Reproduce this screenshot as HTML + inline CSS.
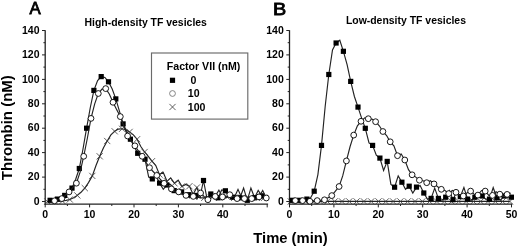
<!DOCTYPE html>
<html><head><meta charset="utf-8"><style>
html,body{margin:0;padding:0;background:#fff;width:520px;height:248px;overflow:hidden}
svg{display:block;filter:grayscale(1) blur(0.35px)}
text{font-family:"Liberation Sans",sans-serif;fill:#000}
.tk{font-size:10.5px;font-weight:bold}
.lg{font-size:10.6px;font-weight:bold}
.ti{font-size:10.45px;font-weight:bold}
.pl{font-size:16.8px;stroke:#000;stroke-width:0.8px}
.ax{font-size:15px;font-weight:bold}
</style></head><body>
<svg width="520" height="248" viewBox="0 0 520 248">
<line x1="45.2" y1="30.2" x2="45.2" y2="204.79999999999998" stroke="#222" stroke-width="1.3"/>
<line x1="44.6" y1="204.2" x2="268.1" y2="204.2" stroke="#222" stroke-width="1.3"/>
<line x1="42.0" y1="201.5" x2="45.2" y2="201.5" stroke="#222" stroke-width="1"/>
<text x="39.5" y="204.6" text-anchor="end" class="tk">0</text>
<line x1="43.4" y1="189.3" x2="45.2" y2="189.3" stroke="#222" stroke-width="1"/>
<line x1="42.0" y1="177.1" x2="45.2" y2="177.1" stroke="#222" stroke-width="1"/>
<text x="39.5" y="180.2" text-anchor="end" class="tk">20</text>
<line x1="43.4" y1="164.9" x2="45.2" y2="164.9" stroke="#222" stroke-width="1"/>
<line x1="42.0" y1="152.6" x2="45.2" y2="152.6" stroke="#222" stroke-width="1"/>
<text x="39.5" y="155.7" text-anchor="end" class="tk">40</text>
<line x1="43.4" y1="140.4" x2="45.2" y2="140.4" stroke="#222" stroke-width="1"/>
<line x1="42.0" y1="128.2" x2="45.2" y2="128.2" stroke="#222" stroke-width="1"/>
<text x="39.5" y="131.3" text-anchor="end" class="tk">60</text>
<line x1="43.4" y1="116.0" x2="45.2" y2="116.0" stroke="#222" stroke-width="1"/>
<line x1="42.0" y1="103.8" x2="45.2" y2="103.8" stroke="#222" stroke-width="1"/>
<text x="39.5" y="106.9" text-anchor="end" class="tk">80</text>
<line x1="43.4" y1="91.6" x2="45.2" y2="91.6" stroke="#222" stroke-width="1"/>
<line x1="42.0" y1="79.4" x2="45.2" y2="79.4" stroke="#222" stroke-width="1"/>
<text x="39.5" y="82.5" text-anchor="end" class="tk">100</text>
<line x1="43.4" y1="67.1" x2="45.2" y2="67.1" stroke="#222" stroke-width="1"/>
<line x1="42.0" y1="54.9" x2="45.2" y2="54.9" stroke="#222" stroke-width="1"/>
<text x="39.5" y="58.0" text-anchor="end" class="tk">120</text>
<line x1="43.4" y1="42.7" x2="45.2" y2="42.7" stroke="#222" stroke-width="1"/>
<line x1="42.0" y1="30.5" x2="45.2" y2="30.5" stroke="#222" stroke-width="1"/>
<text x="39.5" y="33.6" text-anchor="end" class="tk">140</text>
<line x1="45.2" y1="204.2" x2="45.2" y2="207.4" stroke="#222" stroke-width="1"/>
<text x="45.2" y="218.4" text-anchor="middle" class="tk">0</text>
<line x1="67.4" y1="204.2" x2="67.4" y2="206.0" stroke="#222" stroke-width="1"/>
<line x1="89.6" y1="204.2" x2="89.6" y2="207.4" stroke="#222" stroke-width="1"/>
<text x="89.6" y="218.4" text-anchor="middle" class="tk">10</text>
<line x1="111.8" y1="204.2" x2="111.8" y2="206.0" stroke="#222" stroke-width="1"/>
<line x1="134.0" y1="204.2" x2="134.0" y2="207.4" stroke="#222" stroke-width="1"/>
<text x="134.0" y="218.4" text-anchor="middle" class="tk">20</text>
<line x1="156.2" y1="204.2" x2="156.2" y2="206.0" stroke="#222" stroke-width="1"/>
<line x1="178.4" y1="204.2" x2="178.4" y2="207.4" stroke="#222" stroke-width="1"/>
<text x="178.4" y="218.4" text-anchor="middle" class="tk">30</text>
<line x1="200.6" y1="204.2" x2="200.6" y2="206.0" stroke="#222" stroke-width="1"/>
<line x1="222.8" y1="204.2" x2="222.8" y2="207.4" stroke="#222" stroke-width="1"/>
<text x="222.8" y="218.4" text-anchor="middle" class="tk">40</text>
<line x1="245.0" y1="204.2" x2="245.0" y2="206.0" stroke="#222" stroke-width="1"/>
<line x1="267.2" y1="204.2" x2="267.2" y2="207.4" stroke="#222" stroke-width="1"/>
<line x1="289.5" y1="30.2" x2="289.5" y2="204.79999999999998" stroke="#222" stroke-width="1.3"/>
<line x1="288.9" y1="204.2" x2="512.4" y2="204.2" stroke="#222" stroke-width="1.3"/>
<line x1="286.3" y1="201.5" x2="289.5" y2="201.5" stroke="#222" stroke-width="1"/>
<text x="283.8" y="204.6" text-anchor="end" class="tk">0</text>
<line x1="287.7" y1="189.3" x2="289.5" y2="189.3" stroke="#222" stroke-width="1"/>
<line x1="286.3" y1="177.1" x2="289.5" y2="177.1" stroke="#222" stroke-width="1"/>
<text x="283.8" y="180.2" text-anchor="end" class="tk">20</text>
<line x1="287.7" y1="164.9" x2="289.5" y2="164.9" stroke="#222" stroke-width="1"/>
<line x1="286.3" y1="152.6" x2="289.5" y2="152.6" stroke="#222" stroke-width="1"/>
<text x="283.8" y="155.7" text-anchor="end" class="tk">40</text>
<line x1="287.7" y1="140.4" x2="289.5" y2="140.4" stroke="#222" stroke-width="1"/>
<line x1="286.3" y1="128.2" x2="289.5" y2="128.2" stroke="#222" stroke-width="1"/>
<text x="283.8" y="131.3" text-anchor="end" class="tk">60</text>
<line x1="287.7" y1="116.0" x2="289.5" y2="116.0" stroke="#222" stroke-width="1"/>
<line x1="286.3" y1="103.8" x2="289.5" y2="103.8" stroke="#222" stroke-width="1"/>
<text x="283.8" y="106.9" text-anchor="end" class="tk">80</text>
<line x1="287.7" y1="91.6" x2="289.5" y2="91.6" stroke="#222" stroke-width="1"/>
<line x1="286.3" y1="79.4" x2="289.5" y2="79.4" stroke="#222" stroke-width="1"/>
<text x="283.8" y="82.5" text-anchor="end" class="tk">100</text>
<line x1="287.7" y1="67.1" x2="289.5" y2="67.1" stroke="#222" stroke-width="1"/>
<line x1="286.3" y1="54.9" x2="289.5" y2="54.9" stroke="#222" stroke-width="1"/>
<text x="283.8" y="58.0" text-anchor="end" class="tk">120</text>
<line x1="287.7" y1="42.7" x2="289.5" y2="42.7" stroke="#222" stroke-width="1"/>
<line x1="286.3" y1="30.5" x2="289.5" y2="30.5" stroke="#222" stroke-width="1"/>
<text x="283.8" y="33.6" text-anchor="end" class="tk">140</text>
<line x1="289.5" y1="204.2" x2="289.5" y2="207.4" stroke="#222" stroke-width="1"/>
<text x="289.5" y="218.4" text-anchor="middle" class="tk">0</text>
<line x1="311.7" y1="204.2" x2="311.7" y2="206.0" stroke="#222" stroke-width="1"/>
<line x1="333.9" y1="204.2" x2="333.9" y2="207.4" stroke="#222" stroke-width="1"/>
<text x="333.9" y="218.4" text-anchor="middle" class="tk">10</text>
<line x1="356.1" y1="204.2" x2="356.1" y2="206.0" stroke="#222" stroke-width="1"/>
<line x1="378.3" y1="204.2" x2="378.3" y2="207.4" stroke="#222" stroke-width="1"/>
<text x="378.3" y="218.4" text-anchor="middle" class="tk">20</text>
<line x1="400.5" y1="204.2" x2="400.5" y2="206.0" stroke="#222" stroke-width="1"/>
<line x1="422.7" y1="204.2" x2="422.7" y2="207.4" stroke="#222" stroke-width="1"/>
<text x="422.7" y="218.4" text-anchor="middle" class="tk">30</text>
<line x1="444.9" y1="204.2" x2="444.9" y2="206.0" stroke="#222" stroke-width="1"/>
<line x1="467.1" y1="204.2" x2="467.1" y2="207.4" stroke="#222" stroke-width="1"/>
<text x="467.1" y="218.4" text-anchor="middle" class="tk">40</text>
<line x1="489.3" y1="204.2" x2="489.3" y2="206.0" stroke="#222" stroke-width="1"/>
<line x1="511.5" y1="204.2" x2="511.5" y2="207.4" stroke="#222" stroke-width="1"/>
<text x="511.5" y="218.4" text-anchor="middle" class="tk">50</text>
<polyline points="47.4,201.5 51.2,201.5 54.9,201.5 58.6,201.3 62.4,201.0 66.1,200.4 69.8,199.5 73.6,197.8 77.3,195.4 81.0,192.3 84.8,188.1 88.5,182.6 92.3,175.9 96.0,165.5 99.7,156.3 103.5,147.8 107.2,141.0 110.9,134.9 114.7,131.3 118.4,129.1 122.1,128.8 125.9,129.8 129.6,131.9 133.4,134.9 137.1,139.2 140.8,146.5 144.6,152.0 148.3,156.3 152.0,161.2 155.8,165.6 159.5,174.6 163.2,172.3 167.0,181.3 170.7,177.8 174.5,183.3 178.2,180.2 181.9,186.4 185.7,184.4 189.4,186.2 193.1,194.2 196.9,187.5 200.6,197.8 204.3,197.8 208.1,196.6 211.8,196.6 215.6,197.8 219.3,197.8 223.0,196.6 226.8,196.6 230.5,197.8 234.2,197.8 238.0,189.3 241.7,197.8 245.4,197.8 249.2,198.4 252.9,196.6 256.7,197.8 260.4,197.8 264.1,197.8" fill="none" stroke="#222" stroke-width="1.15"/>
<path d="M44.3,198.4L50.5,204.6M44.3,204.6L50.5,198.4" stroke="#383838" stroke-width="0.8" fill="none"/>
<path d="M51.8,198.4L58.0,204.6M51.8,204.6L58.0,198.4" stroke="#383838" stroke-width="0.8" fill="none"/>
<path d="M59.3,197.9L65.5,204.1M59.3,204.1L65.5,197.9" stroke="#383838" stroke-width="0.8" fill="none"/>
<path d="M66.7,196.4L72.9,202.6M66.7,202.6L72.9,196.4" stroke="#383838" stroke-width="0.8" fill="none"/>
<path d="M74.2,192.3L80.4,198.5M74.2,198.5L80.4,192.3" stroke="#383838" stroke-width="0.8" fill="none"/>
<path d="M81.7,185.0L87.9,191.2M81.7,191.2L87.9,185.0" stroke="#383838" stroke-width="0.8" fill="none"/>
<path d="M89.2,172.8L95.4,179.0M89.2,179.0L95.4,172.8" stroke="#383838" stroke-width="0.8" fill="none"/>
<path d="M96.6,153.2L102.8,159.4M96.6,159.4L102.8,153.2" stroke="#383838" stroke-width="0.8" fill="none"/>
<path d="M104.1,137.9L110.3,144.1M104.1,144.1L110.3,137.9" stroke="#383838" stroke-width="0.8" fill="none"/>
<path d="M111.6,128.2L117.8,134.4M111.6,134.4L117.8,128.2" stroke="#383838" stroke-width="0.8" fill="none"/>
<path d="M119.0,125.7L125.2,131.9M119.0,131.9L125.2,125.7" stroke="#383838" stroke-width="0.8" fill="none"/>
<path d="M126.5,128.8L132.7,135.0M126.5,135.0L132.7,128.8" stroke="#383838" stroke-width="0.8" fill="none"/>
<path d="M134.0,136.1L140.2,142.3M134.0,142.3L140.2,136.1" stroke="#383838" stroke-width="0.8" fill="none"/>
<path d="M141.5,148.9L147.7,155.1M141.5,155.1L147.7,148.9" stroke="#383838" stroke-width="0.8" fill="none"/>
<path d="M148.9,158.1L155.1,164.3M148.9,164.3L155.1,158.1" stroke="#383838" stroke-width="0.8" fill="none"/>
<path d="M156.4,171.5L162.6,177.7M156.4,177.7L162.6,171.5" stroke="#383838" stroke-width="0.8" fill="none"/>
<path d="M163.9,178.2L170.1,184.4M163.9,184.4L170.1,178.2" stroke="#383838" stroke-width="0.8" fill="none"/>
<path d="M171.4,180.2L177.6,186.4M171.4,186.4L177.6,180.2" stroke="#383838" stroke-width="0.8" fill="none"/>
<path d="M178.8,183.3L185.0,189.5M178.8,189.5L185.0,183.3" stroke="#383838" stroke-width="0.8" fill="none"/>
<path d="M186.3,183.1L192.5,189.3M186.3,189.3L192.5,183.1" stroke="#383838" stroke-width="0.8" fill="none"/>
<path d="M193.8,184.4L200.0,190.6M193.8,190.6L200.0,184.4" stroke="#383838" stroke-width="0.8" fill="none"/>
<path d="M201.2,194.7L207.4,200.9M201.2,200.9L207.4,194.7" stroke="#383838" stroke-width="0.8" fill="none"/>
<path d="M208.7,193.5L214.9,199.7M208.7,199.7L214.9,193.5" stroke="#383838" stroke-width="0.8" fill="none"/>
<path d="M216.2,194.7L222.4,200.9M216.2,200.9L222.4,194.7" stroke="#383838" stroke-width="0.8" fill="none"/>
<path d="M223.7,193.5L229.9,199.7M223.7,199.7L229.9,193.5" stroke="#383838" stroke-width="0.8" fill="none"/>
<path d="M231.1,194.7L237.3,200.9M231.1,200.9L237.3,194.7" stroke="#383838" stroke-width="0.8" fill="none"/>
<path d="M238.6,194.7L244.8,200.9M238.6,200.9L244.8,194.7" stroke="#383838" stroke-width="0.8" fill="none"/>
<path d="M246.1,195.3L252.3,201.5M246.1,201.5L252.3,195.3" stroke="#383838" stroke-width="0.8" fill="none"/>
<path d="M253.6,194.7L259.8,200.9M253.6,200.9L259.8,194.7" stroke="#383838" stroke-width="0.8" fill="none"/>
<path d="M261.0,194.7L267.2,200.9M261.0,200.9L267.2,194.7" stroke="#383838" stroke-width="0.8" fill="none"/>
<polyline points="50.1,200.3 53.7,199.7 57.4,199.1 61.0,197.8 64.7,195.4 68.3,191.7 72.0,188.1 75.6,179.5 79.3,168.5 83.0,149.0 86.6,128.2 90.3,107.5 93.9,90.4 97.6,80.6 101.2,76.6 104.9,77.5 108.5,81.8 112.2,89.1 115.8,98.9 119.5,111.4 123.1,123.9 126.8,131.6 130.4,139.2 134.1,146.2 137.7,153.3 141.4,156.2 145.0,159.2 148.7,177.1 152.3,178.9 156.0,175.9 159.6,183.1 163.3,189.3 166.9,185.0 170.6,184.4 174.2,190.6 177.9,194.2 181.6,191.9 185.2,196.6 188.9,194.7 192.5,197.8 196.2,195.4 199.8,197.8 203.5,180.5 207.1,199.1 210.8,194.0 214.4,197.8 218.1,197.8 221.7,189.9 225.4,190.8 229.0,196.6 232.7,197.2 236.3,197.8 240.0,197.8 243.6,188.1 247.3,200.3 250.9,188.1 254.6,197.8 258.2,190.5 261.9,195.8 265.5,197.8" fill="none" stroke="#222" stroke-width="1.15"/>
<rect x="47.5" y="197.7" width="5.2" height="5.2" fill="#000"/>
<rect x="54.8" y="196.5" width="5.2" height="5.2" fill="#000"/>
<rect x="62.1" y="192.8" width="5.2" height="5.2" fill="#000"/>
<rect x="69.4" y="185.5" width="5.2" height="5.2" fill="#000"/>
<rect x="76.7" y="165.9" width="5.2" height="5.2" fill="#000"/>
<rect x="84.0" y="125.6" width="5.2" height="5.2" fill="#000"/>
<rect x="91.3" y="87.8" width="5.2" height="5.2" fill="#000"/>
<rect x="98.6" y="74.0" width="5.2" height="5.2" fill="#000"/>
<rect x="105.9" y="79.2" width="5.2" height="5.2" fill="#000"/>
<rect x="113.2" y="96.3" width="5.2" height="5.2" fill="#000"/>
<rect x="120.5" y="121.3" width="5.2" height="5.2" fill="#000"/>
<rect x="127.8" y="136.6" width="5.2" height="5.2" fill="#000"/>
<rect x="135.1" y="150.7" width="5.2" height="5.2" fill="#000"/>
<rect x="142.4" y="156.6" width="5.2" height="5.2" fill="#000"/>
<rect x="149.7" y="176.3" width="5.2" height="5.2" fill="#000"/>
<rect x="157.0" y="180.5" width="5.2" height="5.2" fill="#000"/>
<rect x="164.3" y="182.4" width="5.2" height="5.2" fill="#000"/>
<rect x="171.6" y="188.0" width="5.2" height="5.2" fill="#000"/>
<rect x="179.0" y="189.3" width="5.2" height="5.2" fill="#000"/>
<rect x="186.3" y="192.1" width="5.2" height="5.2" fill="#000"/>
<rect x="193.6" y="192.8" width="5.2" height="5.2" fill="#000"/>
<rect x="200.9" y="177.9" width="5.2" height="5.2" fill="#000"/>
<rect x="208.2" y="191.4" width="5.2" height="5.2" fill="#000"/>
<rect x="215.5" y="195.2" width="5.2" height="5.2" fill="#000"/>
<rect x="222.8" y="188.2" width="5.2" height="5.2" fill="#000"/>
<rect x="230.1" y="194.6" width="5.2" height="5.2" fill="#000"/>
<rect x="237.4" y="195.2" width="5.2" height="5.2" fill="#000"/>
<rect x="244.7" y="197.7" width="5.2" height="5.2" fill="#000"/>
<rect x="252.0" y="195.2" width="5.2" height="5.2" fill="#000"/>
<rect x="259.3" y="193.2" width="5.2" height="5.2" fill="#000"/>
<polyline points="54.5,200.8 58.2,199.7 61.8,198.6 65.5,195.2 69.1,191.9 72.8,187.5 76.4,183.2 80.1,172.2 83.7,156.3 87.4,138.0 91.0,118.4 94.7,103.8 98.3,93.5 102.0,89.1 105.7,88.6 109.3,94.0 113.0,102.3 116.6,109.5 120.3,116.6 123.9,126.3 127.6,136.0 131.2,140.9 134.9,145.8 138.5,151.1 142.2,156.3 145.8,162.0 149.5,167.7 153.1,171.5 156.8,175.4 160.4,179.3 164.1,183.3 167.7,185.6 171.4,188.9 175.0,191.7 178.7,191.9 182.3,194.2 186.0,195.4 189.6,197.8 193.3,196.4 196.9,199.1 200.6,193.0 204.3,196.6 207.9,199.7 211.6,197.8 215.2,196.4 218.9,190.1 222.5,196.9 226.2,197.8 229.8,194.7 233.5,196.6 237.1,198.6 240.8,199.1 244.4,198.6 248.1,197.8 251.7,198.6 255.4,199.1 259.0,196.9 262.7,190.5 266.3,198.0" fill="none" stroke="#222" stroke-width="1.15"/>
<circle cx="54.5" cy="200.8" r="2.9" fill="#fff" stroke="#000" stroke-width="0.9"/>
<circle cx="61.8" cy="198.6" r="2.9" fill="#fff" stroke="#000" stroke-width="0.9"/>
<circle cx="69.1" cy="191.9" r="2.9" fill="#fff" stroke="#000" stroke-width="0.9"/>
<circle cx="76.4" cy="183.2" r="2.9" fill="#fff" stroke="#000" stroke-width="0.9"/>
<circle cx="83.7" cy="156.3" r="2.9" fill="#fff" stroke="#000" stroke-width="0.9"/>
<circle cx="91.0" cy="118.4" r="2.9" fill="#fff" stroke="#000" stroke-width="0.9"/>
<circle cx="98.3" cy="93.5" r="2.9" fill="#fff" stroke="#000" stroke-width="0.9"/>
<circle cx="105.7" cy="88.6" r="2.9" fill="#fff" stroke="#000" stroke-width="0.9"/>
<circle cx="113.0" cy="102.3" r="2.9" fill="#fff" stroke="#000" stroke-width="0.9"/>
<circle cx="120.3" cy="116.6" r="2.9" fill="#fff" stroke="#000" stroke-width="0.9"/>
<circle cx="127.6" cy="136.0" r="2.9" fill="#fff" stroke="#000" stroke-width="0.9"/>
<circle cx="134.9" cy="145.8" r="2.9" fill="#fff" stroke="#000" stroke-width="0.9"/>
<circle cx="142.2" cy="156.3" r="2.9" fill="#fff" stroke="#000" stroke-width="0.9"/>
<circle cx="149.5" cy="167.7" r="2.9" fill="#fff" stroke="#000" stroke-width="0.9"/>
<circle cx="156.8" cy="175.4" r="2.9" fill="#fff" stroke="#000" stroke-width="0.9"/>
<circle cx="164.1" cy="183.3" r="2.9" fill="#fff" stroke="#000" stroke-width="0.9"/>
<circle cx="171.4" cy="188.9" r="2.9" fill="#fff" stroke="#000" stroke-width="0.9"/>
<circle cx="178.7" cy="191.9" r="2.9" fill="#fff" stroke="#000" stroke-width="0.9"/>
<circle cx="186.0" cy="195.4" r="2.9" fill="#fff" stroke="#000" stroke-width="0.9"/>
<circle cx="193.3" cy="196.4" r="2.9" fill="#fff" stroke="#000" stroke-width="0.9"/>
<circle cx="200.6" cy="193.0" r="2.9" fill="#fff" stroke="#000" stroke-width="0.9"/>
<circle cx="207.9" cy="199.7" r="2.9" fill="#fff" stroke="#000" stroke-width="0.9"/>
<circle cx="215.2" cy="196.4" r="2.9" fill="#fff" stroke="#000" stroke-width="0.9"/>
<circle cx="222.5" cy="196.9" r="2.9" fill="#fff" stroke="#000" stroke-width="0.9"/>
<circle cx="229.8" cy="194.7" r="2.9" fill="#fff" stroke="#000" stroke-width="0.9"/>
<circle cx="237.1" cy="198.6" r="2.9" fill="#fff" stroke="#000" stroke-width="0.9"/>
<circle cx="244.4" cy="198.6" r="2.9" fill="#fff" stroke="#000" stroke-width="0.9"/>
<circle cx="251.7" cy="198.6" r="2.9" fill="#fff" stroke="#000" stroke-width="0.9"/>
<circle cx="259.0" cy="196.9" r="2.9" fill="#fff" stroke="#000" stroke-width="0.9"/>
<circle cx="266.3" cy="198.0" r="2.9" fill="#fff" stroke="#000" stroke-width="0.9"/>
<polyline points="290.8,201.4 294.5,201.4 298.1,201.4 301.8,201.4 305.4,201.4 309.1,201.4 312.7,201.4 316.4,201.4 320.0,201.4 323.7,201.4 327.4,201.4 331.0,201.4 334.7,201.4 338.3,201.4 342.0,201.4 345.6,201.4 349.3,201.4 352.9,201.4 356.6,201.4 360.2,201.4 363.9,201.4 367.5,201.4 371.2,201.4 374.8,201.4 378.5,201.4 382.1,201.4 385.8,201.4 389.4,201.4 393.1,201.4 396.7,201.4 400.4,201.4 404.0,201.4 407.7,201.4 411.3,201.4 415.0,201.4 418.6,201.4 422.3,201.4 426.0,201.4 429.6,201.4 433.3,201.4 436.9,201.4 440.6,201.4 444.2,201.4 447.9,201.4 451.5,201.4 455.2,201.4 458.8,201.4 462.5,201.4 466.1,201.4 469.8,201.4 473.4,201.4 477.1,201.4 480.7,201.4 484.4,201.4 488.0,201.4 491.7,201.4 495.3,201.4 499.0,201.4 502.6,201.4 506.3,201.4 509.9,201.4" fill="none" stroke="#222" stroke-width="1.15"/>
<path d="M287.7,198.3L293.9,204.5M287.7,204.5L293.9,198.3" stroke="#383838" stroke-width="0.8" fill="none"/>
<path d="M295.0,198.3L301.2,204.5M295.0,204.5L301.2,198.3" stroke="#383838" stroke-width="0.8" fill="none"/>
<path d="M302.3,198.3L308.5,204.5M302.3,204.5L308.5,198.3" stroke="#383838" stroke-width="0.8" fill="none"/>
<path d="M309.6,198.3L315.8,204.5M309.6,204.5L315.8,198.3" stroke="#383838" stroke-width="0.8" fill="none"/>
<path d="M316.9,198.3L323.1,204.5M316.9,204.5L323.1,198.3" stroke="#383838" stroke-width="0.8" fill="none"/>
<path d="M324.3,198.3L330.5,204.5M324.3,204.5L330.5,198.3" stroke="#383838" stroke-width="0.8" fill="none"/>
<path d="M331.6,198.3L337.8,204.5M331.6,204.5L337.8,198.3" stroke="#383838" stroke-width="0.8" fill="none"/>
<path d="M338.9,198.3L345.1,204.5M338.9,204.5L345.1,198.3" stroke="#383838" stroke-width="0.8" fill="none"/>
<path d="M346.2,198.3L352.4,204.5M346.2,204.5L352.4,198.3" stroke="#383838" stroke-width="0.8" fill="none"/>
<path d="M353.5,198.3L359.7,204.5M353.5,204.5L359.7,198.3" stroke="#383838" stroke-width="0.8" fill="none"/>
<path d="M360.8,198.3L367.0,204.5M360.8,204.5L367.0,198.3" stroke="#383838" stroke-width="0.8" fill="none"/>
<path d="M368.1,198.3L374.3,204.5M368.1,204.5L374.3,198.3" stroke="#383838" stroke-width="0.8" fill="none"/>
<path d="M375.4,198.3L381.6,204.5M375.4,204.5L381.6,198.3" stroke="#383838" stroke-width="0.8" fill="none"/>
<path d="M382.7,198.3L388.9,204.5M382.7,204.5L388.9,198.3" stroke="#383838" stroke-width="0.8" fill="none"/>
<path d="M390.0,198.3L396.2,204.5M390.0,204.5L396.2,198.3" stroke="#383838" stroke-width="0.8" fill="none"/>
<path d="M397.3,198.3L403.5,204.5M397.3,204.5L403.5,198.3" stroke="#383838" stroke-width="0.8" fill="none"/>
<path d="M404.6,198.3L410.8,204.5M404.6,204.5L410.8,198.3" stroke="#383838" stroke-width="0.8" fill="none"/>
<path d="M411.9,198.3L418.1,204.5M411.9,204.5L418.1,198.3" stroke="#383838" stroke-width="0.8" fill="none"/>
<path d="M419.2,198.3L425.4,204.5M419.2,204.5L425.4,198.3" stroke="#383838" stroke-width="0.8" fill="none"/>
<path d="M426.5,198.3L432.7,204.5M426.5,204.5L432.7,198.3" stroke="#383838" stroke-width="0.8" fill="none"/>
<path d="M433.8,198.3L440.0,204.5M433.8,204.5L440.0,198.3" stroke="#383838" stroke-width="0.8" fill="none"/>
<path d="M441.1,198.3L447.3,204.5M441.1,204.5L447.3,198.3" stroke="#383838" stroke-width="0.8" fill="none"/>
<path d="M448.4,198.3L454.6,204.5M448.4,204.5L454.6,198.3" stroke="#383838" stroke-width="0.8" fill="none"/>
<path d="M455.7,198.3L461.9,204.5M455.7,204.5L461.9,198.3" stroke="#383838" stroke-width="0.8" fill="none"/>
<path d="M463.0,198.3L469.2,204.5M463.0,204.5L469.2,198.3" stroke="#383838" stroke-width="0.8" fill="none"/>
<path d="M470.3,198.3L476.5,204.5M470.3,204.5L476.5,198.3" stroke="#383838" stroke-width="0.8" fill="none"/>
<path d="M477.6,198.3L483.8,204.5M477.6,204.5L483.8,198.3" stroke="#383838" stroke-width="0.8" fill="none"/>
<path d="M484.9,198.3L491.1,204.5M484.9,204.5L491.1,198.3" stroke="#383838" stroke-width="0.8" fill="none"/>
<path d="M492.2,198.3L498.4,204.5M492.2,204.5L498.4,198.3" stroke="#383838" stroke-width="0.8" fill="none"/>
<path d="M499.5,198.3L505.7,204.5M499.5,204.5L505.7,198.3" stroke="#383838" stroke-width="0.8" fill="none"/>
<path d="M506.8,198.3L513.0,204.5M506.8,204.5L513.0,198.3" stroke="#383838" stroke-width="0.8" fill="none"/>
<polyline points="292.3,200.3 295.9,200.3 299.6,200.3 303.3,199.7 306.9,199.1 310.6,197.8 314.2,191.2 317.9,174.6 321.5,145.4 325.2,106.2 328.8,74.5 332.5,50.0 336.1,43.0 339.8,40.3 343.4,51.3 347.1,64.7 350.7,81.4 354.4,96.5 358.0,107.1 361.7,118.4 365.3,128.3 369.0,142.9 372.6,145.4 376.3,155.1 379.9,158.1 383.6,170.4 387.2,161.4 390.9,184.4 394.6,187.2 398.2,175.9 401.9,182.2 405.5,189.3 409.2,186.2 412.8,193.0 416.5,187.1 420.1,185.6 423.8,193.0 427.4,199.1 431.1,198.4 434.7,188.1 438.4,198.4 442.0,200.3 445.7,197.2 449.3,190.5 453.0,199.7 456.6,191.7 460.3,196.6 463.9,187.5 467.6,199.1 471.2,200.3 474.9,197.2 478.5,196.6 482.2,196.0 485.8,199.1 489.5,199.1 493.2,187.5 496.8,197.8 500.5,200.3 504.1,196.0 507.8,197.8 511.4,197.2" fill="none" stroke="#222" stroke-width="1.15"/>
<rect x="289.7" y="197.7" width="5.2" height="5.2" fill="#000"/>
<rect x="297.0" y="197.7" width="5.2" height="5.2" fill="#000"/>
<rect x="304.3" y="196.5" width="5.2" height="5.2" fill="#000"/>
<rect x="311.6" y="188.6" width="5.2" height="5.2" fill="#000"/>
<rect x="318.9" y="142.8" width="5.2" height="5.2" fill="#000"/>
<rect x="326.2" y="71.9" width="5.2" height="5.2" fill="#000"/>
<rect x="333.5" y="40.4" width="5.2" height="5.2" fill="#000"/>
<rect x="340.8" y="48.7" width="5.2" height="5.2" fill="#000"/>
<rect x="348.1" y="78.8" width="5.2" height="5.2" fill="#000"/>
<rect x="355.4" y="104.5" width="5.2" height="5.2" fill="#000"/>
<rect x="362.7" y="125.7" width="5.2" height="5.2" fill="#000"/>
<rect x="370.0" y="142.8" width="5.2" height="5.2" fill="#000"/>
<rect x="377.3" y="155.5" width="5.2" height="5.2" fill="#000"/>
<rect x="384.6" y="158.8" width="5.2" height="5.2" fill="#000"/>
<rect x="392.0" y="184.6" width="5.2" height="5.2" fill="#000"/>
<rect x="399.3" y="179.6" width="5.2" height="5.2" fill="#000"/>
<rect x="406.6" y="183.6" width="5.2" height="5.2" fill="#000"/>
<rect x="413.9" y="184.5" width="5.2" height="5.2" fill="#000"/>
<rect x="421.2" y="190.4" width="5.2" height="5.2" fill="#000"/>
<rect x="428.5" y="195.8" width="5.2" height="5.2" fill="#000"/>
<rect x="435.8" y="195.8" width="5.2" height="5.2" fill="#000"/>
<rect x="443.1" y="194.6" width="5.2" height="5.2" fill="#000"/>
<rect x="450.4" y="197.1" width="5.2" height="5.2" fill="#000"/>
<rect x="457.7" y="194.0" width="5.2" height="5.2" fill="#000"/>
<rect x="465.0" y="196.5" width="5.2" height="5.2" fill="#000"/>
<rect x="472.3" y="194.6" width="5.2" height="5.2" fill="#000"/>
<rect x="479.6" y="193.4" width="5.2" height="5.2" fill="#000"/>
<rect x="486.9" y="196.5" width="5.2" height="5.2" fill="#000"/>
<rect x="494.2" y="195.2" width="5.2" height="5.2" fill="#000"/>
<rect x="501.5" y="193.4" width="5.2" height="5.2" fill="#000"/>
<rect x="508.8" y="194.6" width="5.2" height="5.2" fill="#000"/>
<polyline points="295.3,200.6 298.9,200.6 302.6,200.6 306.2,201.0 309.9,201.3 313.5,201.0 317.2,200.6 320.8,200.2 324.5,199.8 328.1,197.7 331.8,195.6 335.4,191.1 339.1,186.5 342.7,175.9 346.4,160.9 350.1,146.5 353.7,135.1 357.4,125.8 361.0,121.3 364.7,117.8 368.3,118.7 372.0,119.1 375.6,121.7 379.3,125.8 382.9,131.5 386.6,135.5 390.2,141.8 393.9,145.9 397.5,155.7 401.2,153.9 404.8,160.0 408.5,169.7 412.1,174.8 415.8,177.1 419.4,180.2 423.1,180.7 426.7,182.7 430.4,180.7 434.0,183.9 437.7,186.8 441.3,189.3 445.0,190.5 448.7,193.6 452.3,190.5 456.0,192.3 459.6,195.4 463.3,196.0 466.9,193.0 470.6,191.1 474.2,194.2 477.9,195.1 481.5,190.5 485.2,191.1 488.8,195.4 492.5,195.4 496.1,191.7 499.8,194.2 503.4,196.6 507.1,194.4 510.7,193.0" fill="none" stroke="#222" stroke-width="1.15"/>
<circle cx="295.3" cy="200.6" r="2.9" fill="#fff" stroke="#000" stroke-width="0.9"/>
<circle cx="302.6" cy="200.6" r="2.9" fill="#fff" stroke="#000" stroke-width="0.9"/>
<circle cx="309.9" cy="201.3" r="2.9" fill="#fff" stroke="#000" stroke-width="0.9"/>
<circle cx="317.2" cy="200.6" r="2.9" fill="#fff" stroke="#000" stroke-width="0.9"/>
<circle cx="324.5" cy="199.8" r="2.9" fill="#fff" stroke="#000" stroke-width="0.9"/>
<circle cx="331.8" cy="195.6" r="2.9" fill="#fff" stroke="#000" stroke-width="0.9"/>
<circle cx="339.1" cy="186.5" r="2.9" fill="#fff" stroke="#000" stroke-width="0.9"/>
<circle cx="346.4" cy="160.9" r="2.9" fill="#fff" stroke="#000" stroke-width="0.9"/>
<circle cx="353.7" cy="135.1" r="2.9" fill="#fff" stroke="#000" stroke-width="0.9"/>
<circle cx="361.0" cy="121.3" r="2.9" fill="#fff" stroke="#000" stroke-width="0.9"/>
<circle cx="368.3" cy="118.7" r="2.9" fill="#fff" stroke="#000" stroke-width="0.9"/>
<circle cx="375.6" cy="121.7" r="2.9" fill="#fff" stroke="#000" stroke-width="0.9"/>
<circle cx="382.9" cy="131.5" r="2.9" fill="#fff" stroke="#000" stroke-width="0.9"/>
<circle cx="390.2" cy="141.8" r="2.9" fill="#fff" stroke="#000" stroke-width="0.9"/>
<circle cx="397.5" cy="155.7" r="2.9" fill="#fff" stroke="#000" stroke-width="0.9"/>
<circle cx="404.8" cy="160.0" r="2.9" fill="#fff" stroke="#000" stroke-width="0.9"/>
<circle cx="412.1" cy="174.8" r="2.9" fill="#fff" stroke="#000" stroke-width="0.9"/>
<circle cx="419.4" cy="180.2" r="2.9" fill="#fff" stroke="#000" stroke-width="0.9"/>
<circle cx="426.7" cy="182.7" r="2.9" fill="#fff" stroke="#000" stroke-width="0.9"/>
<circle cx="434.0" cy="183.9" r="2.9" fill="#fff" stroke="#000" stroke-width="0.9"/>
<circle cx="441.3" cy="189.3" r="2.9" fill="#fff" stroke="#000" stroke-width="0.9"/>
<circle cx="448.7" cy="193.6" r="2.9" fill="#fff" stroke="#000" stroke-width="0.9"/>
<circle cx="456.0" cy="192.3" r="2.9" fill="#fff" stroke="#000" stroke-width="0.9"/>
<circle cx="463.3" cy="196.0" r="2.9" fill="#fff" stroke="#000" stroke-width="0.9"/>
<circle cx="470.6" cy="191.1" r="2.9" fill="#fff" stroke="#000" stroke-width="0.9"/>
<circle cx="477.9" cy="195.1" r="2.9" fill="#fff" stroke="#000" stroke-width="0.9"/>
<circle cx="485.2" cy="191.1" r="2.9" fill="#fff" stroke="#000" stroke-width="0.9"/>
<circle cx="492.5" cy="195.4" r="2.9" fill="#fff" stroke="#000" stroke-width="0.9"/>
<circle cx="499.8" cy="194.2" r="2.9" fill="#fff" stroke="#000" stroke-width="0.9"/>
<circle cx="507.1" cy="194.4" r="2.9" fill="#fff" stroke="#000" stroke-width="0.9"/>
<rect x="151.5" y="53" width="96.3" height="66.1" fill="#fff" stroke="#6a6a6a" stroke-width="1.15"/>
<text x="166.8" y="70.3" class="lg">Factor VII (nM)</text>
<rect x="169.9" y="77.7" width="5.2" height="5.2" fill="#000"/>
<text x="190.5" y="84" class="lg">0</text>
<circle cx="172.5" cy="93.5" r="2.9" fill="#fff" stroke="#777" stroke-width="0.9"/>
<text x="187.8" y="97.3" class="lg">10</text>
<path d="M169.4,103.9L175.6,110.1M169.4,110.1L175.6,103.9" stroke="#383838" stroke-width="0.8" fill="none"/>
<text x="187.8" y="110.8" class="lg">100</text>
<text x="84.5" y="25.5" class="ti">High-density TF vesicles</text>
<text x="345.9" y="24.4" class="ti">Low-density TF vesicles</text>
<text x="29.6" y="13.7" class="pl">A</text>
<text transform="translate(273.0,14.6) scale(1.18,1)" class="pl">B</text>
<text transform="translate(290.5,243.1) scale(1,1.04)" text-anchor="middle" class="ax" style="font-size:14.8px">Time (min)</text>
<text transform="translate(12.4,127.7) rotate(-90)" text-anchor="middle" class="ax">Thrombin (nM)</text>
</svg>
</body></html>
